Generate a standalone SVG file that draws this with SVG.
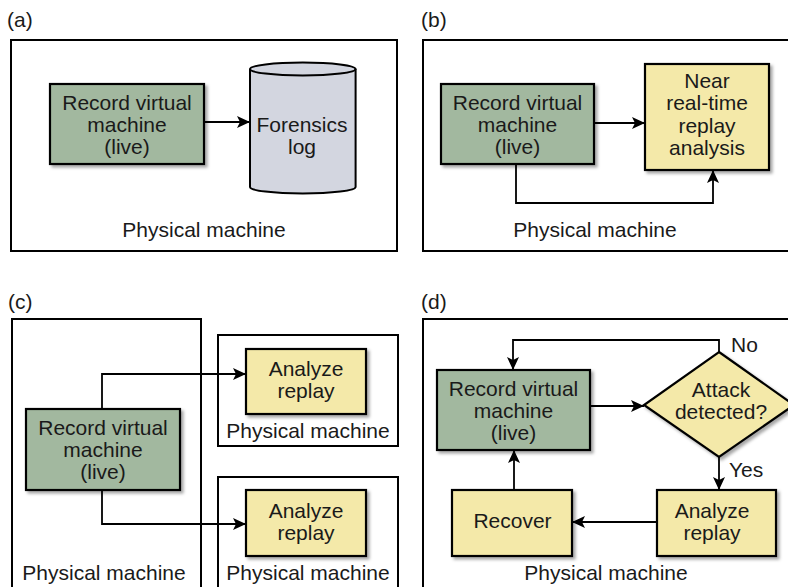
<svg xmlns="http://www.w3.org/2000/svg" width="788" height="587" viewBox="0 0 788 587">
  <defs>
    <filter id="shadow" x="-10%" y="-10%" width="130%" height="140%">
      <feDropShadow dx="2.5" dy="2.5" stdDeviation="1.6" flood-color="#000" flood-opacity="0.35"/>
    </filter>
    <marker id="arrow" markerUnits="userSpaceOnUse" markerWidth="14" markerHeight="12" refX="13" refY="6" orient="auto">
      <path d="M0,0 L13,6 L0,12 L3,6 z" fill="#000"/>
    </marker>
  </defs>
  <style>
    text { font-family: "Liberation Sans", Arial, Helvetica, sans-serif; font-size: 21px; fill: #1a1a1a; }
    .c { text-anchor: middle; }
    .frame { fill: none; stroke: #000; stroke-width: 2; }
    .vm { fill: #a2b89f; stroke: #000; stroke-width: 2.2; filter: url(#shadow); }
    .task { fill: #f4e9a9; stroke: #000; stroke-width: 2.2; filter: url(#shadow); }
    .store { fill: #d3d6e0; stroke: #000; stroke-width: 2; }
    .link { fill: none; stroke: #000; stroke-width: 1.8; marker-end: url(#arrow); }
  </style>

  <!-- Panel labels -->
  <text x="7" y="27">(a)</text>
  <text x="421" y="27">(b)</text>
  <text x="8" y="309">(c)</text>
  <text x="421" y="309">(d)</text>

  <!-- (a) record to forensics log -->
  <g id="a-host">
    <rect class="frame" x="11" y="40" width="386" height="211"/>
    <text class="c" x="204" y="237">Physical machine</text>
  </g>
  <g id="a-record">
    <rect class="vm" x="50" y="84" width="154" height="80"/>
    <text class="c" x="127" y="110">Record virtual</text>
    <text class="c" x="127" y="132">machine</text>
    <text class="c" x="127" y="154">(live)</text>
  </g>
  <g id="a-log">
    <path class="store" d="M250,69 L250,187 A52.8,6.5 0 0 0 355.6,187 L355.6,69 A52.8,6.5 0 0 0 250,69 z"/>
    <path d="M250,69 A52.8,6.5 0 0 0 355.6,69" fill="none" stroke="#000" stroke-width="2"/>
    <text class="c" x="302" y="132">Forensics</text>
    <text class="c" x="302" y="154">log</text>
  </g>

  <!-- (b) near real-time replay analysis -->
  <g id="b-host">
    <rect class="frame" x="423" y="40" width="370" height="211"/>
    <text class="c" x="595" y="237">Physical machine</text>
  </g>
  <g id="b-record">
    <rect class="vm" x="441" y="84" width="153" height="80"/>
    <text class="c" x="517.5" y="110">Record virtual</text>
    <text class="c" x="517.5" y="132">machine</text>
    <text class="c" x="517.5" y="154">(live)</text>
  </g>
  <g id="b-analysis">
    <rect class="task" x="645" y="64" width="124" height="106"/>
    <text class="c" x="707" y="88">Near</text>
    <text class="c" x="707" y="110">real-time</text>
    <text class="c" x="707" y="132.5">replay</text>
    <text class="c" x="707" y="155">analysis</text>
  </g>

  <!-- (c) replay on separate machines -->
  <g id="c-host">
    <rect class="frame" x="12" y="319" width="189" height="280"/>
    <text class="c" x="104" y="580">Physical machine</text>
  </g>
  <g id="c-record">
    <rect class="vm" x="26" y="409" width="154" height="81"/>
    <text class="c" x="103" y="435">Record virtual</text>
    <text class="c" x="103" y="457">machine</text>
    <text class="c" x="103" y="479">(live)</text>
  </g>
  <g id="c-host-top">
    <rect class="frame" x="218" y="335" width="180" height="111"/>
    <rect class="task" x="246" y="349" width="120" height="65"/>
    <text class="c" x="306" y="376">Analyze</text>
    <text class="c" x="306" y="398">replay</text>
    <text class="c" x="308" y="438">Physical machine</text>
  </g>
  <g id="c-host-bottom">
    <rect class="frame" x="218" y="477" width="180" height="120"/>
    <rect class="task" x="246" y="490" width="120" height="66"/>
    <text class="c" x="306" y="518">Analyze</text>
    <text class="c" x="306" y="540">replay</text>
    <text class="c" x="308" y="580">Physical machine</text>
  </g>

  <!-- (d) detect, analyze and recover loop -->
  <g id="d-host">
    <rect class="frame" x="423" y="319" width="370" height="280"/>
    <text class="c" x="606" y="580">Physical machine</text>
  </g>
  <g id="d-record">
    <rect class="vm" x="437" y="370" width="153" height="80"/>
    <text class="c" x="513.5" y="396">Record virtual</text>
    <text class="c" x="513.5" y="418">machine</text>
    <text class="c" x="513.5" y="440">(live)</text>
  </g>
  <g id="d-decision">
    <polygon class="task" points="719,352 794,405 719,457 644,405"/>
    <text class="c" x="721" y="397">Attack</text>
    <text class="c" x="721" y="419">detected?</text>
  </g>
  <g id="d-analyze">
    <rect class="task" x="657" y="490" width="119" height="66"/>
    <text class="c" x="712" y="518">Analyze</text>
    <text class="c" x="712" y="540">replay</text>
  </g>
  <g id="d-recover">
    <rect class="task" x="452" y="490" width="120" height="66"/>
    <text class="c" x="512.5" y="528">Recover</text>
  </g>
  <text x="731" y="352">No</text>
  <text x="729" y="477">Yes</text>

  <!-- Connectors -->
  <g id="connectors">
    <path class="link" d="M204,122 L250,122"/>
    <path class="link" d="M594,123 L645,123"/>
    <path class="link" d="M516,164 L516,203 L713,203 L713,170"/>
    <path class="link" d="M102,409 L102,374 L246,374"/>
    <path class="link" d="M102,490 L102,524 L246,524"/>
    <path class="link" d="M590,406 L644,406"/>
    <path class="link" d="M719,352 L719,340 L513,340 L513,370"/>
    <path class="link" d="M719,457 L719,490"/>
    <path class="link" d="M657,522 L572,522"/>
    <path class="link" d="M514,490 L514,450"/>
  </g>
</svg>
